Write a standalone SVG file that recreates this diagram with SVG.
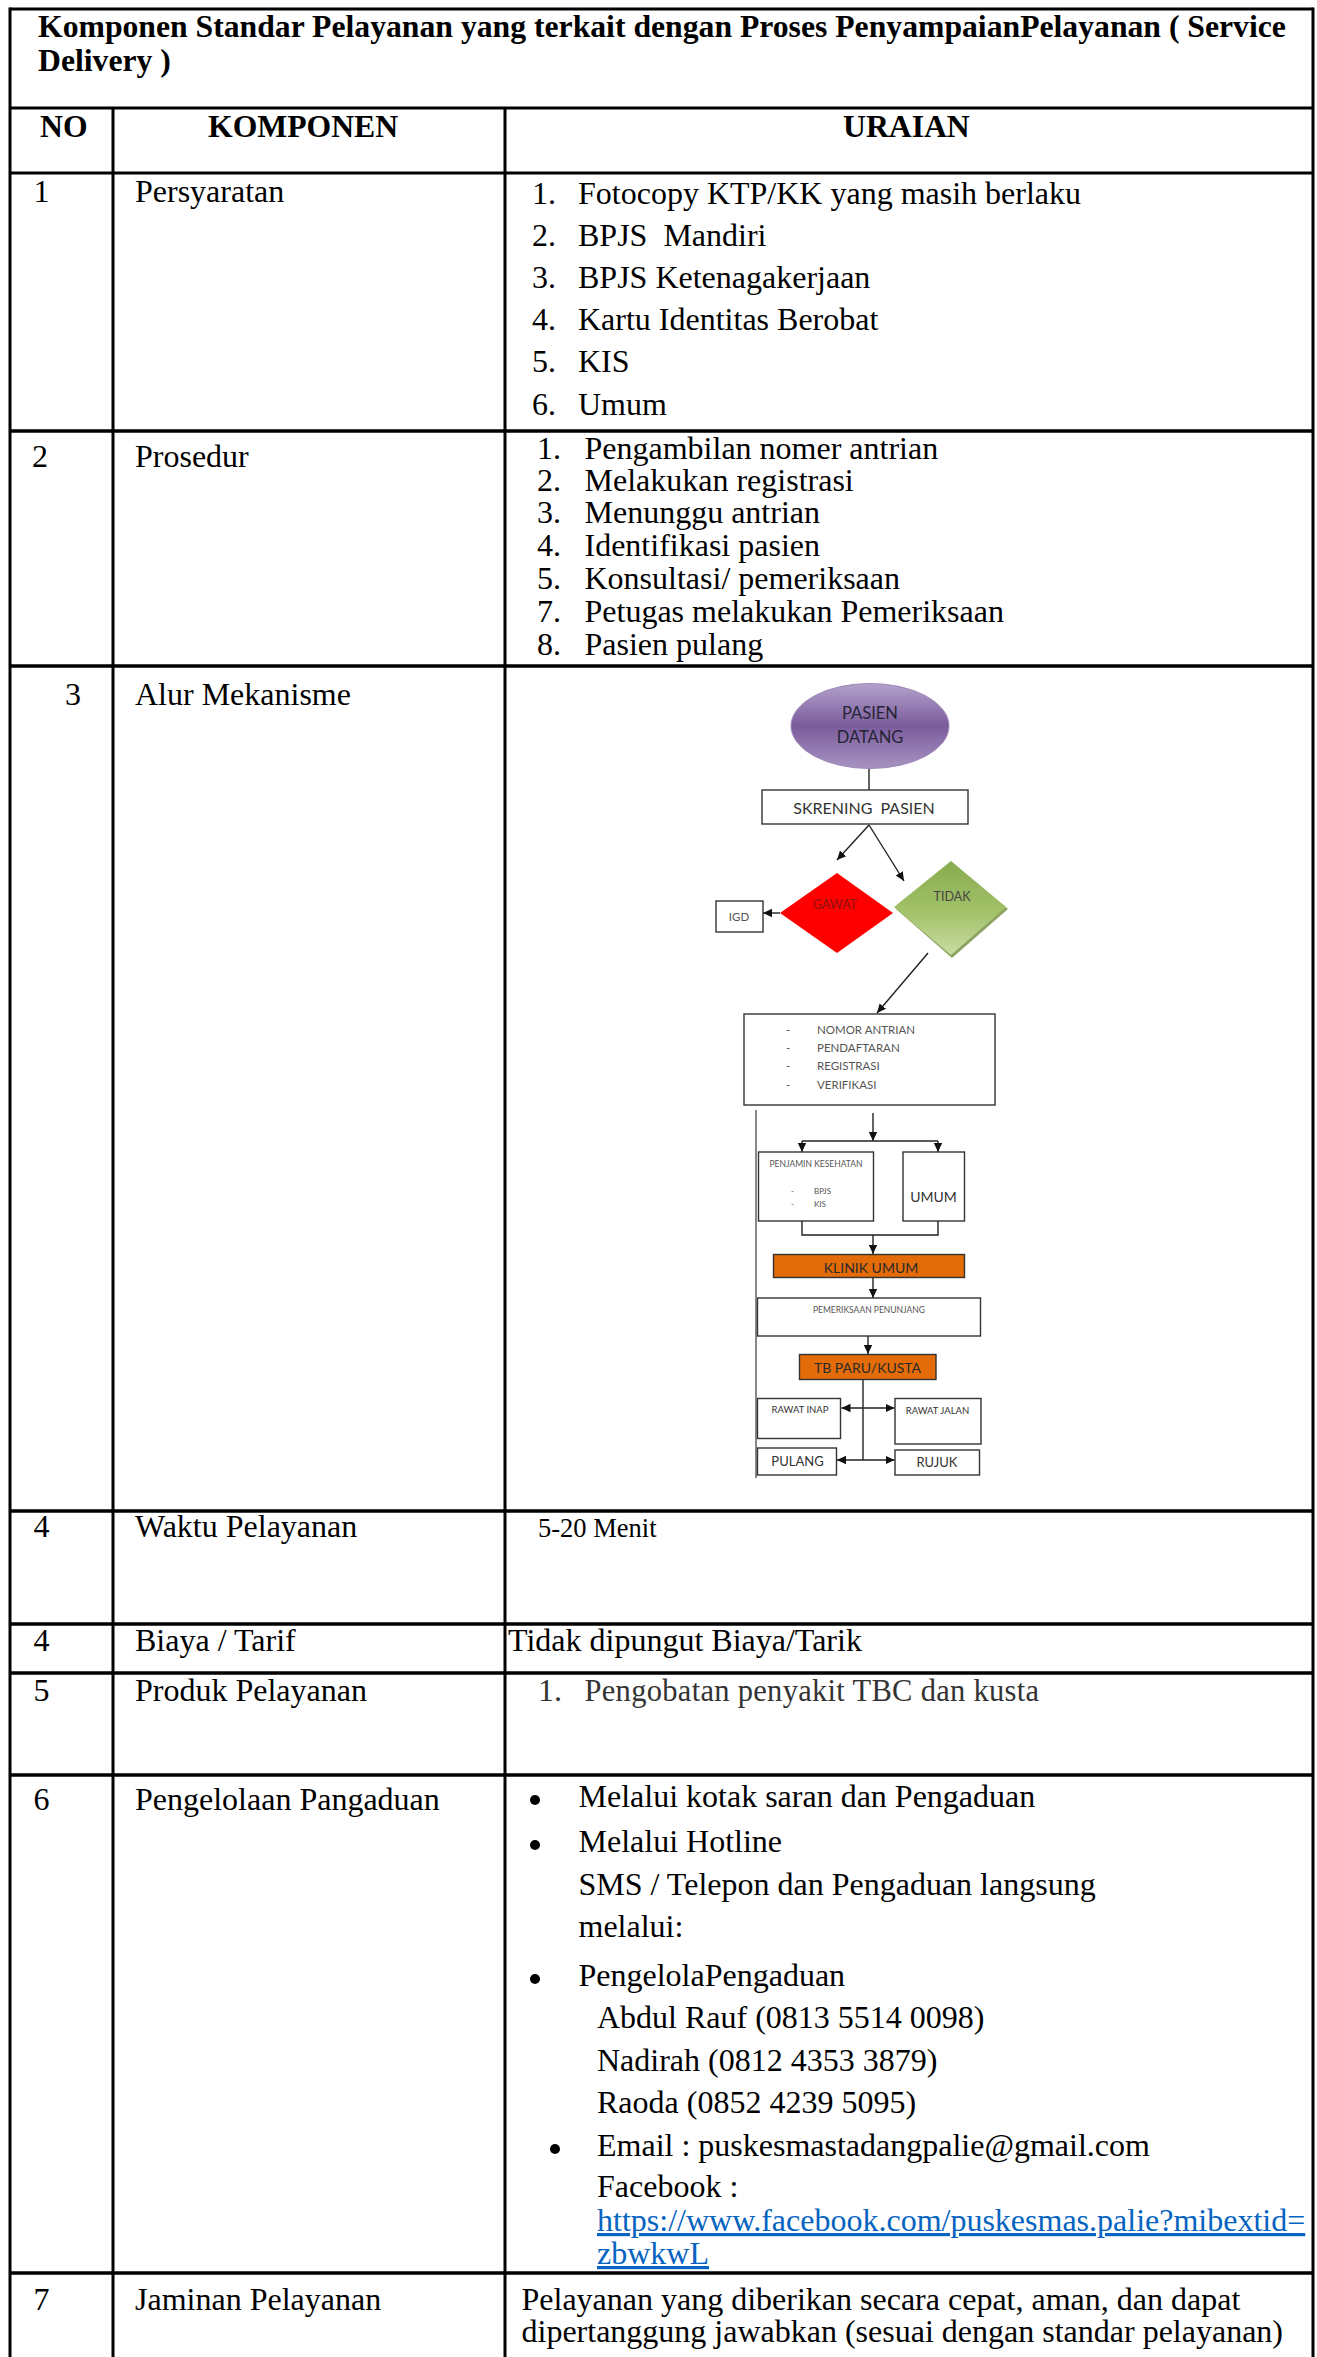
<svg xmlns="http://www.w3.org/2000/svg" width="1317" height="2357" viewBox="0 0 1317 2357">
  <defs>
    <style>
      .grid { stroke: #000; stroke-width: 3; fill: none; }
      .sep { stroke: #000; stroke-width: 3.5; fill: none; }
      .tx { font-family: "Liberation Serif", "Times New Roman", serif; font-size: 32px; fill: #000; }
      .tb { font-family: "Liberation Serif", "Times New Roman", serif; font-size: 31.7px; font-weight: bold; fill: #000; }
      .link { fill: #0563c1; text-decoration: underline; }
      .fc { font-family: Lato, "Open Sans", sans-serif; fill: #333; text-anchor: middle; }
      .box { fill: #fff; stroke: #333; stroke-width: 1.4; }
      .orange { fill: #e36c09; stroke: #333; stroke-width: 1.4; }
      .ln { stroke: #222; stroke-width: 1.4; fill: none; }
      .arr { stroke: #222; stroke-width: 1.4; fill: none; marker-end: url(#ah); }
      .arr2 { stroke: #222; stroke-width: 1.4; fill: none; marker-start: url(#ahs); marker-end: url(#ah); }
    </style>
    <marker id="ah" markerUnits="userSpaceOnUse" markerWidth="10" markerHeight="10" refX="9" refY="5" orient="auto">
      <path d="M0,0.8 L9,5 L0,9.2 z" fill="#111"/>
    </marker>
    <marker id="ahs" markerUnits="userSpaceOnUse" markerWidth="10" markerHeight="10" refX="1" refY="5" orient="auto">
      <path d="M10,0.8 L1,5 L10,9.2 z" fill="#111"/>
    </marker>
    <linearGradient id="purple" x1="0" y1="0" x2="0" y2="1">
      <stop offset="0" stop-color="#b3a2cb"/>
      <stop offset="0.5" stop-color="#7b5b9c"/>
      <stop offset="1" stop-color="#a893c2"/>
    </linearGradient>
    <linearGradient id="green" x1="0" y1="0" x2="0" y2="1">
      <stop offset="0" stop-color="#88ab4f"/>
      <stop offset="0.55" stop-color="#a3c26a"/>
      <stop offset="1" stop-color="#c9dca3"/>
    </linearGradient>
  </defs>

  <rect x="0" y="0" width="1317" height="2357" fill="#fff"/>

  <!-- table frame -->
  <g id="table-grid">
    <line class="grid" x1="10" y1="9" x2="1313" y2="9"/>
    <line class="grid" x1="10" y1="7.5" x2="10" y2="2357"/>
    <line class="grid" x1="1313" y1="7.5" x2="1313" y2="2357"/>
    <line class="grid" x1="10" y1="108" x2="1313" y2="108"/>
    <line class="grid" x1="113" y1="108" x2="113" y2="2357"/>
    <line class="grid" x1="505" y1="108" x2="505" y2="2357"/>
    <line class="grid" x1="10" y1="173" x2="1313" y2="173"/>
    <line class="sep" x1="10" y1="431" x2="1313" y2="431"/>
    <line class="sep" x1="10" y1="666" x2="1313" y2="666"/>
    <line class="sep" x1="10" y1="1511" x2="1313" y2="1511"/>
    <line class="sep" x1="10" y1="1624" x2="1313" y2="1624"/>
    <line class="sep" x1="10" y1="1673" x2="1313" y2="1673"/>
    <line class="sep" x1="10" y1="1775" x2="1313" y2="1775"/>
    <line class="sep" x1="10" y1="2273" x2="1313" y2="2273"/>
  </g>

  <!-- cell texts -->
  <g id="cell-texts">
    <text class="tb" x="38" y="37">Komponen Standar Pelayanan yang terkait dengan Proses PenyampaianPelayanan ( Service</text>
    <text class="tb" x="38" y="71">Delivery )</text>

    <text class="tb" x="40" y="137">NO</text>
    <text class="tb" x="208" y="137">KOMPONEN</text>
    <text class="tb" x="843" y="137">URAIAN</text>

    <!-- 1 Persyaratan -->
    <text class="tx" x="33.5" y="202">1</text>
    <text class="tx" x="135" y="202">Persyaratan</text>
    <g class="tx">
      <text x="532" y="204">1.</text><text x="578" y="204">Fotocopy KTP/KK yang masih berlaku</text>
      <text x="532" y="246">2.</text><text x="578" y="246">BPJS&#160; Mandiri</text>
      <text x="532" y="288">3.</text><text x="578" y="288">BPJS Ketenagakerjaan</text>
      <text x="532" y="330">4.</text><text x="578" y="330">Kartu Identitas Berobat</text>
      <text x="532" y="372">5.</text><text x="578" y="372">KIS</text>
      <text x="532" y="415">6.</text><text x="578" y="415">Umum</text>
    </g>

    <!-- 2 Prosedur -->
    <text class="tx" x="32" y="467">2</text>
    <text class="tx" x="135" y="467">Prosedur</text>
    <g class="tx">
      <text x="537" y="459">1.</text><text x="584.5" y="459">Pengambilan nomer antrian</text>
      <text x="537" y="491">2.</text><text x="584.5" y="491">Melakukan registrasi</text>
      <text x="537" y="523">3.</text><text x="584.5" y="523">Menunggu antrian</text>
      <text x="537" y="556">4.</text><text x="584.5" y="556">Identifikasi pasien</text>
      <text x="537" y="589">5.</text><text x="584.5" y="589">Konsultasi/ pemeriksaan</text>
      <text x="537" y="622">7.</text><text x="584.5" y="622">Petugas melakukan Pemeriksaan</text>
      <text x="537" y="655">8.</text><text x="584.5" y="655">Pasien pulang</text>
    </g>

    <!-- 3 Alur Mekanisme -->
    <text class="tx" x="65" y="705">3</text>
    <text class="tx" x="135" y="705">Alur Mekanisme</text>

    <!-- 4 Waktu Pelayanan -->
    <text class="tx" x="33.5" y="1537">4</text>
    <text class="tx" x="135" y="1537">Waktu Pelayanan</text>
    <text class="tx" x="538" y="1537" style="font-size:26.5px">5-20 Menit</text>

    <!-- 4 Biaya / Tarif -->
    <text class="tx" x="33.5" y="1651">4</text>
    <text class="tx" x="135" y="1651">Biaya / Tarif</text>
    <text class="tx" x="508" y="1651">Tidak dipungut Biaya/Tarik</text>

    <!-- 5 Produk Pelayanan -->
    <text class="tx" x="33.5" y="1701">5</text>
    <text class="tx" x="135" y="1701">Produk Pelayanan</text>
    <text class="tx" x="538" y="1701" style="fill:#333">1.</text>
    <text class="tx" x="584.5" y="1701" style="fill:#333;font-size:30.5px;letter-spacing:0.3px">Pengobatan penyakit TBC dan kusta</text>

    <!-- 6 Pengelolaan Pangaduan -->
    <text class="tx" x="33.5" y="1810">6</text>
    <text class="tx" x="135" y="1810">Pengelolaan Pangaduan</text>
    <g class="tx">
      <text x="578.5" y="1807">Melalui kotak saran dan Pengaduan</text>
      <text x="578.5" y="1852">Melalui Hotline</text>
      <text x="578.5" y="1895">SMS / Telepon dan Pengaduan langsung</text>
      <text x="578.5" y="1937">melalui:</text>
      <text x="578.5" y="1986">PengelolaPengaduan</text>
      <text x="597" y="2028">Abdul Rauf (0813 5514 0098)</text>
      <text x="597" y="2071">Nadirah (0812 4353 3879)</text>
      <text x="597" y="2113">Raoda (0852 4239 5095)</text>
      <text x="597" y="2156">Email : puskesmastadangpalie@gmail.com</text>
      <text x="597" y="2197">Facebook :</text>
      <text class="link" x="597" y="2231">https://www.facebook.com/puskesmas.palie?mibextid=</text>
      <text class="link" x="597" y="2264">zbwkwL</text>
    </g>

    <!-- 7 Jaminan Pelayanan -->
    <text class="tx" x="33.5" y="2310">7</text>
    <text class="tx" x="135" y="2310">Jaminan Pelayanan</text>
    <text class="tx" x="521.5" y="2310">Pelayanan yang diberikan secara cepat, aman, dan dapat</text>
    <text class="tx" x="521.5" y="2342">dipertanggung jawabkan (sesuai dengan standar pelayanan)</text>
  </g>

  <!-- list bullets -->
  <g id="bullets" fill="#000">
    <circle cx="535" cy="1800" r="5"/>
    <circle cx="535" cy="1845" r="5"/>
    <circle cx="535" cy="1979" r="5"/>
    <circle cx="555" cy="2149" r="5"/>
  </g>

  <!-- service flow: connectors -->
  <g id="connectors">
    <line class="ln" x1="869" y1="768" x2="869" y2="790"/>
    <line class="arr" x1="869" y1="825" x2="837" y2="860"/>
    <line class="arr" x1="869" y1="825" x2="904" y2="881"/>
    <line class="arr" x1="780" y1="913" x2="763" y2="913"/>
    <line class="arr" x1="928" y1="953" x2="877" y2="1013"/>
    <line class="ln" x1="756" y1="1110" x2="756" y2="1478" style="stroke:#555"/>
    <line class="arr" x1="873" y1="1113" x2="873" y2="1141"/>
    <line class="ln" x1="802" y1="1141" x2="938" y2="1141"/>
    <line class="arr" x1="802" y1="1141" x2="802" y2="1152"/>
    <line class="arr" x1="938" y1="1141" x2="938" y2="1152"/>
    <path class="ln" d="M802,1221 V1235 H938 V1221"/>
    <line class="arr" x1="873" y1="1235" x2="873" y2="1254"/>
    <line class="arr" x1="873" y1="1278" x2="873" y2="1298"/>
    <line class="arr" x1="868" y1="1336" x2="868" y2="1354"/>
    <line class="ln" x1="863" y1="1379" x2="863" y2="1460"/>
    <line class="arr2" x1="841.5" y1="1408" x2="894.5" y2="1408"/>
    <line class="arr2" x1="837" y1="1460" x2="894.5" y2="1460"/>
  </g>

  <!-- service flow: nodes -->
  <g id="node-pasien-datang">
    <ellipse cx="870" cy="726" rx="79" ry="42.5" fill="url(#purple)" stroke="#9d88b9" stroke-width="1"/>
    <text class="fc" x="870" y="719" font-size="16.5" style="fill:#252535">PASIEN</text>
    <text class="fc" x="870" y="743" font-size="16.5" style="fill:#252535">DATANG</text>
  </g>
  <g id="node-skrening">
    <rect class="box" x="762" y="790" width="206" height="34"/>
    <text class="fc" x="864" y="814" font-size="16" xml:space="preserve">SKRENING  PASIEN</text>
  </g>
  <g id="node-gawat">
    <polygon points="780,913 837,873 893,913 837,953" fill="#ff0000"/>
    <text class="fc" x="835" y="909" font-size="12.5" style="fill:#8a1010">GAWAT</text>
  </g>
  <g id="node-tidak">
    <polygon points="896,909 952,863 1008,909 952,958" fill="#6f8d3a" opacity="0.8"/>
    <polygon points="894,907 951,861 1006,907 951,955" fill="url(#green)"/>
    <text class="fc" x="952" y="901" font-size="12.5" style="fill:#444">TIDAK</text>
  </g>
  <g id="node-igd">
    <rect class="box" x="716" y="901" width="47" height="31"/>
    <text class="fc" x="739" y="921" font-size="11.5" style="fill:#555">IGD</text>
  </g>
  <g id="node-registrasi">
    <rect class="box" x="744" y="1014" width="251" height="91"/>
    <g class="fc" font-size="11.5" style="fill:#555;text-anchor:start">
      <text x="786" y="1034">-</text><text x="817" y="1034">NOMOR ANTRIAN</text>
      <text x="786" y="1052">-</text><text x="817" y="1052">PENDAFTARAN</text>
      <text x="786" y="1070">-</text><text x="817" y="1070">REGISTRASI</text>
      <text x="786" y="1089">-</text><text x="817" y="1089">VERIFIKASI</text>
    </g>
  </g>
  <g id="node-penjamin">
    <rect class="box" x="758.5" y="1152" width="115" height="69"/>
    <text class="fc" x="816" y="1167" font-size="8.5" style="fill:#555">PENJAMIN KESEHATAN</text>
    <g class="fc" font-size="8" style="fill:#555;text-anchor:start">
      <text x="791" y="1194">-</text><text x="814" y="1194">BPJS</text>
      <text x="791" y="1207">-</text><text x="814" y="1207">KIS</text>
    </g>
  </g>
  <g id="node-umum">
    <rect class="box" x="903" y="1152" width="61.5" height="69"/>
    <text class="fc" x="933.5" y="1202" font-size="14">UMUM</text>
  </g>
  <g id="node-klinik-umum">
    <rect class="orange" x="773.5" y="1254.5" width="191" height="23"/>
    <text class="fc" x="871" y="1272.5" font-size="14" style="fill:#2a2a2a">KLINIK UMUM</text>
  </g>
  <g id="node-pemeriksaan">
    <rect class="box" x="757.5" y="1298" width="223" height="38"/>
    <text class="fc" x="869" y="1312.5" font-size="8.5" style="fill:#555">PEMERIKSAAN PENUNJANG</text>
  </g>
  <g id="node-tb">
    <rect class="orange" x="799.5" y="1354.5" width="136.5" height="25"/>
    <text class="fc" x="867.5" y="1373" font-size="14" style="fill:#2a2a2a">TB PARU/KUSTA</text>
  </g>
  <g id="node-rawat-inap">
    <rect class="box" x="757.5" y="1398.5" width="83" height="40"/>
    <text class="fc" x="800" y="1413" font-size="9.5" style="fill:#333">RAWAT INAP</text>
  </g>
  <g id="node-rawat-jalan">
    <rect class="box" x="895" y="1398.5" width="86" height="45.5"/>
    <text class="fc" x="937.5" y="1414" font-size="9.5" style="fill:#333">RAWAT JALAN</text>
  </g>
  <g id="node-pulang">
    <rect class="box" x="757.5" y="1448" width="79" height="27"/>
    <text class="fc" x="797.5" y="1466" font-size="13" style="fill:#333">PULANG</text>
  </g>
  <g id="node-rujuk">
    <rect class="box" x="895" y="1450" width="84.5" height="25"/>
    <text class="fc" x="937" y="1467" font-size="13" style="fill:#333">RUJUK</text>
  </g>
</svg>
